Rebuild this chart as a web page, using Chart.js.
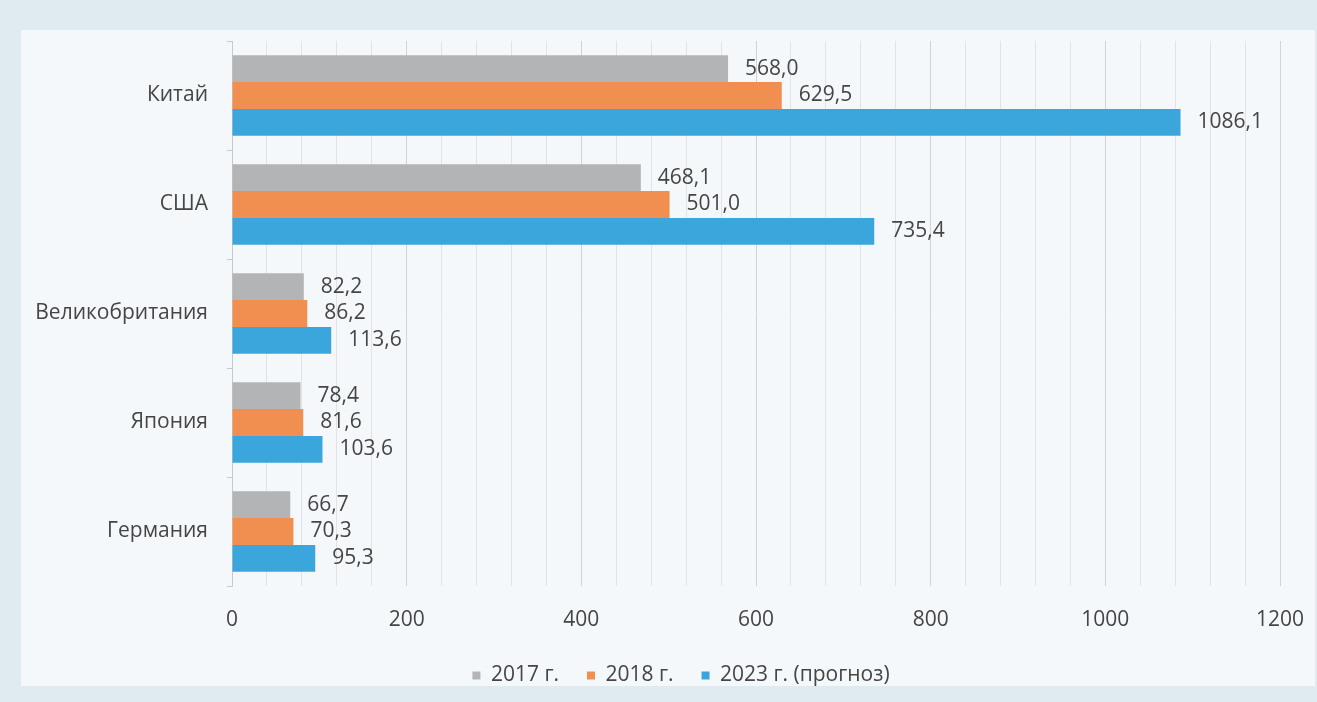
<!DOCTYPE html>
<html>
<head>
<meta charset="utf-8">
<script src="https://cdn.jsdelivr.net/npm/chart.js@4"></script>
<style>
  html, body { margin: 0; padding: 0; }
  body { width: 1317px; height: 702px; background: #dfeaf1; position: relative; overflow: hidden; }
  #panel { position: absolute; left: 21px; top: 30px; width: 1294px; height: 656px; background: #f5f8fa; }
  #wrap { position: absolute; left: 0; top: 0; width: 1317px; height: 702px; }
</style>
</head>
<body>
<div id="panel"></div>
<div id="wrap"><canvas id="chart" width="1317" height="702"></canvas></div>
<script>
"use strict";
const COUNTRIES = ["Китай", "США", "Великобритания", "Япония", "Германия"];
const SERIES_NAMES = ["2017 г.", "2018 г.", "2023 г. (прогноз)"];
const VALUES_2017 = [568.0, 468.1, 82.2, 78.4, 66.7];
const VALUES_2018 = [629.5, 501.0, 86.2, 81.6, 70.3];
const VALUES_2023 = [1086.1, 735.4, 113.6, 103.6, 95.3];
const X_MIN = 0;
const X_MAX = 1200;
const X_STEP = 40; // minor gridlines
const X_LABEL_STEP = 200;

const GRAY = "#b3b4b5";
const ORANGE = "#f08f50";
const BLUE = "#3aa6dc";
const TEXT = "#454545";
const FONT = "'Open Sans', sans-serif";
const FONT_SIZE = 21;

function fmt(v) {
  return v.toFixed(1).replace(".", ",");
}

// values to the right of every bar
const valueLabels = {
  id: "valueLabels",
  afterDatasetsDraw(chart) {
    const ctx = chart.ctx;
    ctx.save();
    ctx.font = FONT_SIZE + "px " + FONT;
    ctx.fillStyle = TEXT;
    ctx.textAlign = "left";
    ctx.textBaseline = "middle";
    chart.data.datasets.forEach((ds, i) => {
      const meta = chart.getDatasetMeta(i);
      meta.data.forEach((bar, j) => {
        ctx.fillText(fmt(ds.data[j]), bar.x + 17, bar.y);
      });
    });
    ctx.restore();
  },
};

// category names, drawn here so the long ones are not clipped by the axis box
const categoryLabels = {
  id: "categoryLabels",
  afterDraw(chart) {
    const ctx = chart.ctx;
    const y = chart.scales.y;
    ctx.save();
    ctx.font = FONT_SIZE + "px " + FONT;
    ctx.fillStyle = TEXT;
    ctx.textAlign = "right";
    ctx.textBaseline = "middle";
    chart.data.labels.forEach((lab, i) => {
      ctx.fillText(lab, y.right - 24, y.getPixelForTick(i));
    });
    ctx.restore();
  },
};

const ctx = document.getElementById("chart").getContext("2d");
const myChart = new Chart(ctx, {
  type: "bar",
  data: {
    labels: COUNTRIES,
    datasets: [
      { label: SERIES_NAMES[0], data: VALUES_2017, backgroundColor: GRAY },
      { label: SERIES_NAMES[1], data: VALUES_2018, backgroundColor: ORANGE },
      { label: SERIES_NAMES[2], data: VALUES_2023, backgroundColor: BLUE },
    ],
  },
  options: {
    indexAxis: "y",
    responsive: false,
    animation: false,
    devicePixelRatio: 1,
    layout: { padding: { top: 41, right: 37, bottom: 6, left: 82 } },
    datasets: {
      bar: { categoryPercentage: 0.74, barPercentage: 1.0, borderWidth: 0 },
    },
    scales: {
      x: {
        min: X_MIN,
        max: X_MAX,
        border: { display: false },
        grid: {
          drawTicks: false,
          color: (c) => (c.tick && c.tick.value % X_LABEL_STEP === 0 ? "#d3d3d3" : "#e3e3e3"),
          lineWidth: 1,
        },
        ticks: {
          stepSize: X_STEP,
          autoSkip: false,
          maxRotation: 0,
          padding: 21,
          color: TEXT,
          font: { family: FONT, size: FONT_SIZE },
          callback: (v) => (v % X_LABEL_STEP === 0 ? String(v) : ""),
        },
        afterFit: (scale) => {
          scale.height = 51;
          // the last label may hang into the layout padding
          scale.paddingLeft = 0;
          scale.paddingRight = 0;
        },
      },
      y: {
        border: { display: true, color: "#c9c9c9" },
        grid: { drawOnChartArea: false, drawTicks: true, tickLength: 5, color: "#c9c9c9" },
        ticks: { display: false },
        afterFit: (scale) => {
          scale.width = 150;
        },
      },
    },
    plugins: {
      legend: {
        position: "bottom",
        labels: {
          boxWidth: 8,
          boxHeight: 8,
          padding: 28,
          color: TEXT,
          font: { family: FONT, size: FONT_SIZE },
        },
      },
      tooltip: { enabled: false },
    },
  },
  plugins: [valueLabels, categoryLabels],
});
</script>
</body>
</html>
